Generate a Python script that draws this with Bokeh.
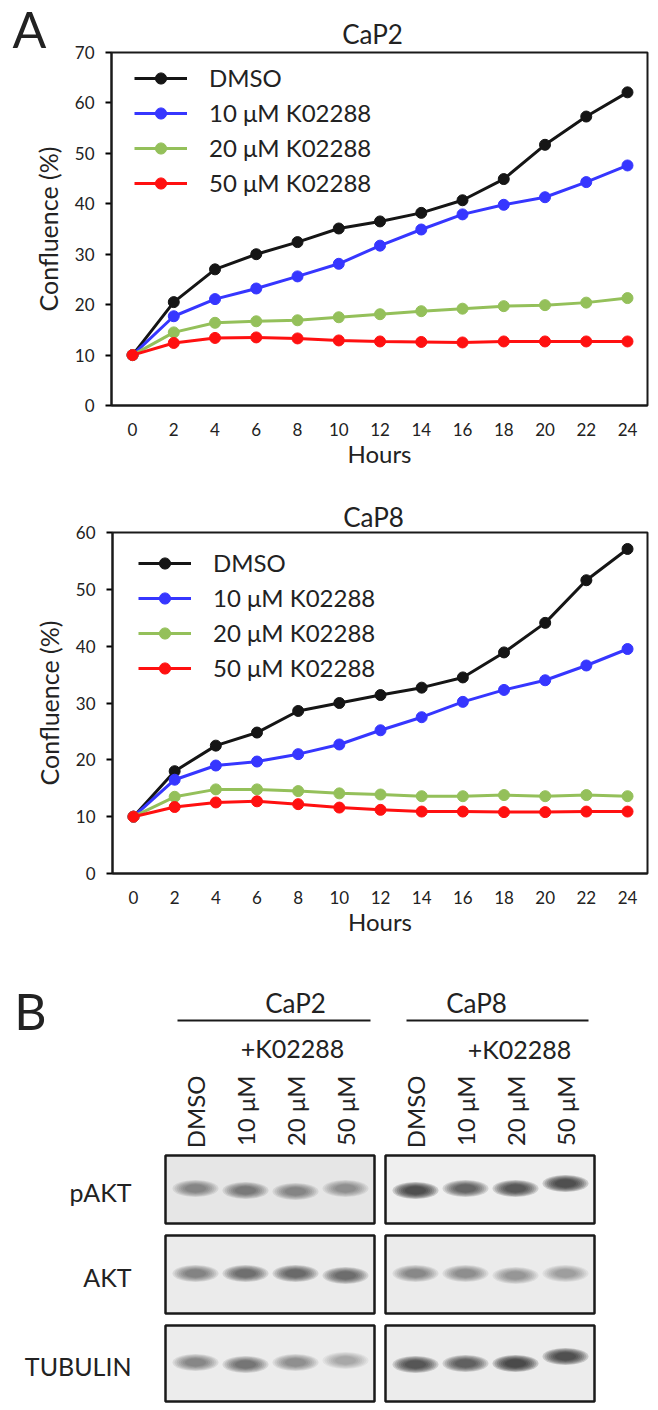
from bokeh.plotting import figure
from bokeh.models import Range1d, FixedTicker, Legend, LegendItem, BoxAnnotation
from bokeh.layouts import column
from bokeh.embed import file_html
from bokeh.resources import INLINE
from bokeh.core.properties import value
import math

# ---------------- data ----------------
hours = [0, 2, 4, 6, 8, 10, 12, 14, 16, 18, 20, 22, 24]
series_labels = ["DMSO", "10 μM K02288", "20 μM K02288", "50 μM K02288"]

cap2_dmso = [10, 20.5, 27.0, 30.0, 32.4, 35.1, 36.5, 38.2, 40.7, 44.9, 51.7, 57.3, 62.1]
cap2_10uM = [10, 17.7, 21.1, 23.2, 25.6, 28.1, 31.7, 34.9, 37.9, 39.8, 41.3, 44.3, 47.6]
cap2_20uM = [10, 14.5, 16.4, 16.7, 16.9, 17.5, 18.1, 18.7, 19.2, 19.7, 19.9, 20.4, 21.3]
cap2_50uM = [10, 12.4, 13.4, 13.5, 13.3, 12.9, 12.7, 12.6, 12.5, 12.7, 12.7, 12.7, 12.7]

cap8_dmso = [10, 18.0, 22.5, 24.8, 28.6, 30.0, 31.4, 32.7, 34.5, 38.9, 44.1, 51.6, 57.1]
cap8_10uM = [10, 16.5, 19.0, 19.7, 21.0, 22.7, 25.2, 27.5, 30.2, 32.3, 34.0, 36.6, 39.5]
cap8_20uM = [10, 13.5, 14.8, 14.8, 14.5, 14.1, 13.9, 13.6, 13.6, 13.8, 13.6, 13.8, 13.6]
cap8_50uM = [10, 11.7, 12.5, 12.7, 12.2, 11.6, 11.2, 10.9, 10.9, 10.8, 10.8, 10.9, 10.9]

# western blot (relative band darkness, 0..1)
blot_groups = ["CaP2", "CaP8"]
lane_labels = ["DMSO", "10 μM", "20 μM", "50 μM"]
blot_rows = ["pAKT", "AKT", "TUBULIN"]
pakt_cap2 = [0.45, 0.50, 0.45, 0.38]
pakt_cap8 = [0.90, 0.68, 0.78, 0.90]
akt_cap2 = [0.48, 0.58, 0.65, 0.62]
akt_cap8 = [0.42, 0.40, 0.36, 0.32]
tub_cap2 = [0.45, 0.55, 0.40, 0.28]
tub_cap8 = [0.82, 0.72, 0.95, 0.88]

# ---------------- style / layout ----------------
FONT = "Lato"
TXT = "#222222"
COLORS = ["#151515", "#3636ff", "#94c05a", "#ff1010"]
W = 656
X0, X1 = -1.02, 24.97


def no_align(p):
    if "frame_align" in p.properties():
        p.frame_align = False


def make_chart(title, ymax, series, height, frame, title_px, leg_xy, spacing,
               panel_letter=None, letter_px=None):
    """Whole canvas is the frame; axes are pinned where the chart box sits."""
    fl, fr, ft, fb = frame
    sx = (fr - fl) / (X1 - X0)
    sy = (fb - ft) / ymax
    xs = X0 - fl / sx
    xe = X1 + (W - fr) / sx
    ys = 0 - (height - fb) / sy
    ye = ymax + ft / sy

    def px2x(px):
        return xs + px / sx

    def px2y(py):
        return ye - py / sy

    p = figure(width=W, height=height, x_range=Range1d(xs, xe),
               y_range=Range1d(ys, ye), output_backend="svg",
               toolbar_location=None, min_border_left=0, min_border_right=0,
               min_border_top=0, min_border_bottom=0)
    no_align(p)
    p.xgrid.visible = False
    p.ygrid.visible = False
    p.outline_line_color = None
    p.background_fill_color = "white"
    p.border_fill_color = "white"

    xa = p.xaxis[0]
    xa.fixed_location = 0
    xa.bounds = (X0, X1)
    xa.ticker = FixedTicker(ticks=hours)
    xa.major_tick_out = 0
    xa.major_tick_in = 0
    xa.minor_tick_out = 0
    xa.minor_tick_in = 0
    xa.axis_line_width = 2
    xa.axis_line_color = "#1a1a1a"
    xa.major_label_text_font = FONT
    xa.major_label_text_font_size = "17px"
    xa.major_label_text_color = TXT
    xa.major_label_standoff = 17
    xa.axis_label = "Hours"
    xa.axis_label_text_font = FONT
    xa.axis_label_text_font_size = "24px"
    xa.axis_label_text_font_style = "normal"
    xa.axis_label_text_color = TXT
    xa.axis_label_standoff = 0

    ya = p.yaxis[0]
    ya.fixed_location = X0
    ya.bounds = (0, ymax)
    ya.ticker = FixedTicker(ticks=list(range(0, ymax + 1, 10)))
    ya.major_tick_out = 6
    ya.major_tick_in = 0
    ya.minor_tick_out = 0
    ya.minor_tick_in = 0
    ya.major_tick_line_width = 2
    ya.axis_line_width = 2
    ya.axis_line_color = "#1a1a1a"
    ya.major_label_text_font = FONT
    ya.major_label_text_font_size = "17px"
    ya.major_label_text_color = TXT
    ya.major_label_standoff = 11
    ya.axis_label = "Confluence (%)"
    ya.axis_label_text_font = FONT
    ya.axis_label_text_font_size = "25px"
    ya.axis_label_text_font_style = "normal"
    ya.axis_label_text_color = TXT
    ya.axis_label_standoff = 9

    p.add_layout(BoxAnnotation(left=X0, right=X1, bottom=0, top=ymax,
                               fill_alpha=0, line_color="#1a1a1a", line_width=2,
                               line_alpha=1))

    items = []
    for lab, ys_, c in zip(series_labels, series, COLORS):
        r1 = p.line(hours, ys_, line_color=c, line_width=3)
        r2 = p.scatter(hours, ys_, size=11, fill_color=c, line_color=c)
        items.append(LegendItem(label=lab, renderers=[r1, r2]))
    leg = Legend(items=items, location=leg_xy, glyph_width=53, glyph_height=28,
                 label_height=28, spacing=spacing, label_standoff=22, padding=0,
                 margin=0, border_line_color=None, background_fill_alpha=0,
                 label_text_font=FONT, label_text_font_size="24px",
                 label_text_color=TXT, label_text_baseline="middle")
    p.add_layout(leg)

    p.text(x=[px2x(title_px[0])], y=[px2y(title_px[1])], text=[title],
           text_align="center", text_baseline="middle", text_font=value(FONT),
           text_font_size="26px", text_color=TXT)
    if panel_letter:
        p.text(x=[px2x(letter_px[0])], y=[px2y(letter_px[1])], text=[panel_letter],
               text_align="center", text_baseline="middle", text_font=value(FONT),
               text_font_size="50px", text_color=TXT)
    return p


# top chart: page y 0..470, box x 111..647, y 52..405
p1 = make_chart("CaP2", 70, [cap2_dmso, cap2_10uM, cap2_20uM, cap2_50uM], 470,
                (111, 647, 52, 405), (372, 33), (134, 273), 6,
                panel_letter="A", letter_px=(29, 28))
# bottom chart: page y 470..940, box x 112..647, y 532..873
p2 = make_chart("CaP8", 60, [cap8_dmso, cap8_10uM, cap8_20uM, cap8_50uM], 470,
                (112, 647, 62, 403), (373, 46), (138, 258), 6)

# ---------------- western blot panel ----------------
H3 = 468
p3 = figure(width=W, height=H3, x_range=Range1d(0, W), y_range=Range1d(940 + H3, 940),
            output_backend="svg", toolbar_location=None, x_axis_type=None,
            y_axis_type=None, min_border_left=0, min_border_right=0,
            min_border_top=0, min_border_bottom=0)
no_align(p3)
p3.xgrid.visible = False
p3.ygrid.visible = False
p3.outline_line_color = None
p3.background_fill_color = "white"
p3.border_fill_color = "white"

panel_left = [165, 385]
panel_w = 209
lane_first = 30
lane_step = 50
row_top = [1155, 1235, 1325]
row_bot = [1223, 1313, 1401]
row_bg = [["#e6e6e6", "#efefef"], ["#ebebeb", "#ebebeb"], ["#ececec", "#ececec"]]
row_data = [[pakt_cap2, pakt_cap8], [akt_cap2, akt_cap8], [tub_cap2, tub_cap8]]
band_dy = [[[0, 2, 3, 0], [2, 0, 0, -5]],
           [[0, 0, 0, 2], [0, 0, 2, 0]],
           [[0, 2, 0, -2], [2, 1, 1, -6]]]

for ri in range(3):
    for gi in range(2):
        p3.quad(left=[panel_left[gi]], right=[panel_left[gi] + panel_w],
                top=[row_top[ri]], bottom=[row_bot[ri]],
                fill_color=row_bg[ri][gi], line_color="#1a1a1a", line_width=2.5)

for ri in range(3):
    yc = (row_top[ri] + row_bot[ri]) / 2 - 1
    for gi in range(2):
        inten = row_data[ri][gi]
        xs = [panel_left[gi] + lane_first + i * lane_step for i in range(4)]
        ys = [yc + d for d in band_dy[ri][gi]]
        for k in range(7):
            f = 1 - k * 0.09
            p3.ellipse(x=xs, y=ys, width=46 * f, height=17 * f,
                       fill_color="#1c1c1c", line_color=None,
                       fill_alpha=[v * 0.2 for v in inten])

p3.text(x=[131] * 3, y=[(row_top[i] + row_bot[i]) / 2 + 2 for i in range(3)],
        text=blot_rows, text_align="right", text_baseline="middle",
        text_font=value(FONT), text_font_size="25px", text_color=TXT)

p3.text(x=[295, 476], y=[1002, 1002], text=blot_groups, text_align="center",
        text_baseline="middle", text_font=value(FONT), text_font_size="26px",
        text_color=TXT)
p3.segment(x0=[177, 406], y0=[1020, 1020], x1=[370, 588], y1=[1020, 1020],
           line_color="#1a1a1a", line_width=2)
p3.text(x=[292, 519], y=[1047, 1048], text=["+K02288", "+K02288"], text_align="center",
        text_baseline="middle", text_font=value(FONT), text_font_size="25px",
        text_color=TXT)

lx = [panel_left[g] + lane_first + i * lane_step for g in range(2) for i in range(4)]
p3.text(x=lx, y=[1075] * 8, text=lane_labels * 2, angle=math.pi / 2,
        text_align="right", text_baseline="middle", text_font=value(FONT),
        text_font_size="24px", text_color=TXT)

p3.text(x=[30], y=[1010], text=["B"], text_align="center", text_baseline="middle",
        text_font=value(FONT), text_font_size="50px", text_color=TXT)

layout = column(p1, p2, p3)
open("out.html", "w").write(file_html(layout, INLINE))
